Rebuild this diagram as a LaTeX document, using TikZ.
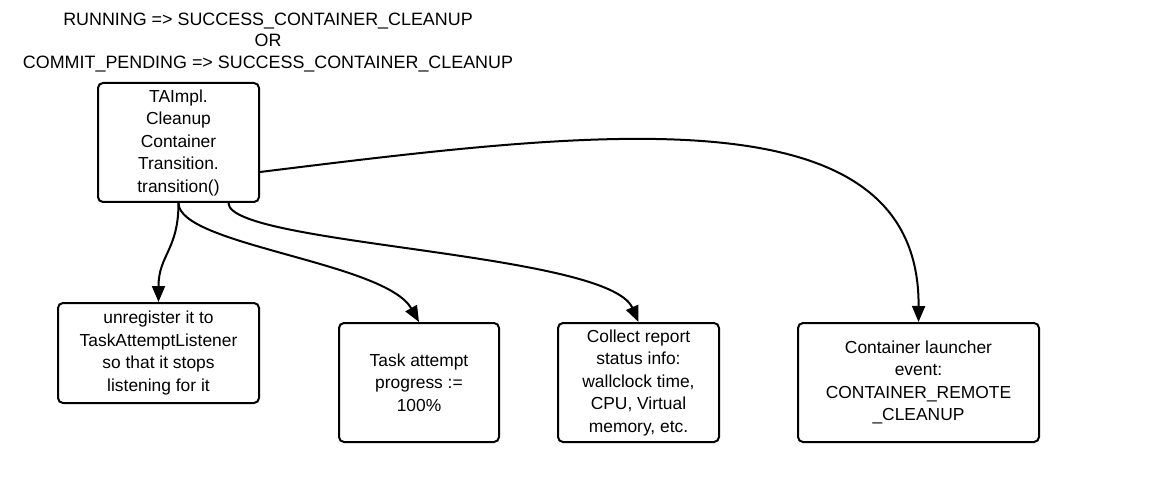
\documentclass[tikz,border=0pt]{standalone}
\usepackage{fontspec}
\setmainfont{Liberation Sans}
\usetikzlibrary{arrows.meta}
\begin{document}
\begin{tikzpicture}[x=1pt,y=-1pt,
  box/.style={draw, line width=2pt, rounded corners=5pt, align=center, inner sep=0pt,
    font=\fontsize{17.4}{22.5}\selectfont},
  conn/.style={line width=2pt, -{Triangle[length=16pt,width=13pt]}}]
\useasboundingbox (0,0) rectangle (1152,484);
\node[align=center, font=\fontsize{17.9}{21.5}\selectfont] (lbl) at (268,42.5)
  {RUNNING => SUCCESS\_CONTAINER\_CLEANUP\\OR\\COMMIT\_PENDING => SUCCESS\_CONTAINER\_CLEANUP};
\node[box, minimum width=161pt, minimum height=119pt] (top) at (178.5,142.5)
  {TAImpl.\\Cleanup\\Container\\Transition.\\transition()};
\node[box, minimum width=201pt, minimum height=100pt] (unreg) at (158.5,353)
  {unregister it to\\TaskAttemptListener\\so that it stops\\listening for it};
\node[box, minimum width=160pt, minimum height=119pt] (task) at (419,382.5)
  {Task attempt\\progress :=\\100\%};
\node[box, minimum width=161pt, minimum height=119pt] (coll) at (638.5,382.5)
  {Collect report\\status info:\\wallclock time,\\CPU, Virtual\\memory, etc.};
\node[box, minimum width=241pt, minimum height=119pt] (cont) at (918.5,382.5)
  {Container launcher\\event:\\CONTAINER\_REMOTE\\\_CLEANUP};
\coordinate (tb2) at ([xshift=50pt]top.south);
\coordinate (tr) at ([yshift=-29.5pt]top.east);
\draw[conn] (top.south) .. controls (178.5,250) and (158.5,255) .. (unreg.north);
\draw[conn] (top.south) .. controls (178.5,245) and (385,262) .. (task.north);
\draw[conn] (tb2) .. controls (228.5,245) and (608,252) .. (coll.north);
\draw[conn] (tr) .. controls (600,130) and (920,90) .. (cont.north);
\end{tikzpicture}
\end{document}
